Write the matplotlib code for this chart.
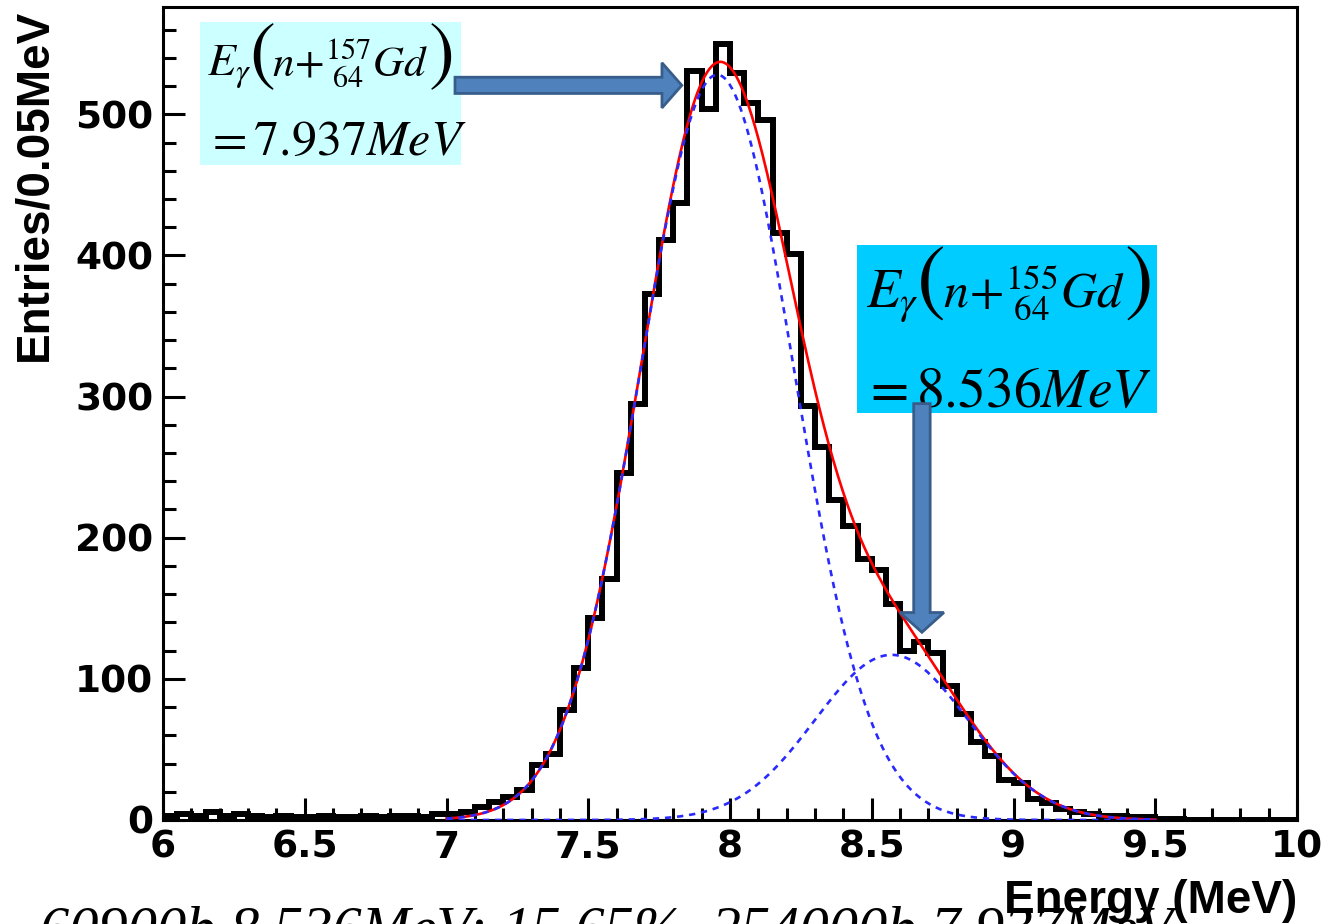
import numpy as np
import matplotlib
matplotlib.use("Agg")
import matplotlib.pyplot as plt
from matplotlib.patches import Rectangle, FancyArrow

# ---------------- data ----------------
bin_edges = np.round(np.arange(6.0, 10.0001, 0.05), 2)
counts = [
    3, 4, 3, 6, 3, 4, 3, 2, 3, 2,          # 6.00 - 6.45
    2, 3, 2, 2, 3, 2, 3, 3, 2, 4,          # 6.50 - 6.95
    4, 6, 9, 13, 16, 21, 39, 47, 78, 108,  # 7.00 - 7.45
    143, 171, 246, 295, 373, 411, 437, 531, 504, 550,  # 7.50 - 7.95
    529, 508, 496, 416, 401, 293, 264, 227, 208, 185,  # 8.00 - 8.45
    177, 153, 120, 126, 118, 95, 75, 55, 45, 28,       # 8.50 - 8.95
    26, 15, 12, 8, 6, 4, 3, 3, 2, 2,       # 9.00 - 9.45
    1, 1, 0, 0, 0, 0, 0, 0, 0, 0,          # 9.50 - 9.95
]
# fitted gaussian components
gd157_amp, gd157_mean, gd157_sigma = 528.0, 7.955, 0.27
gd155_amp, gd155_mean, gd155_sigma = 117.0, 8.57, 0.27
fit_range = (7.0, 9.5)

xticks = [6, 6.5, 7, 7.5, 8, 8.5, 9, 9.5, 10]
xticklabels = ["6", "6.5", "7", "7.5", "8", "8.5", "9", "9.5", "10"]
yticks = [0, 100, 200, 300, 400, 500]

box1_sym = r"$E_{\gamma}$"
box1_core = r"$n\!+\!{}^{157}_{\ 64}Gd$"
box1_value = r"$=7.937MeV$"
box2_sym = r"$E_{\gamma}$"
box2_core = r"$n\!+\!{}^{155}_{\ 64}Gd$"
box2_value = r"$=8.536MeV$"
bottom_note = "60900b 8.536MeV: 15.65%, 254000b 7.937MeV"

# ---------------- figure ----------------
plt.rcParams["mathtext.fontset"] = "stix"
plt.rcParams["font.family"] = ["Liberation Sans", "DejaVu Sans"]

W, H = 1326, 924
fig = plt.figure(figsize=(W / 100, H / 100), dpi=100)
ax = fig.add_axes([163 / W, 1 - 820 / H, (1297 - 163) / W, (820 - 7) / H])

ax.stairs(counts, bin_edges, color="black", linewidth=4.3, baseline=0, zorder=2)


def gauss(x, a, m, s):
    return a * np.exp(-0.5 * ((x - m) / s) ** 2)


xf = np.linspace(fit_range[0], fit_range[1], 600)
g1 = gauss(xf, gd157_amp, gd157_mean, gd157_sigma)
g2 = gauss(xf, gd155_amp, gd155_mean, gd155_sigma)
ax.plot(xf, g1 + g2, color="red", linewidth=1.9, zorder=3)
ax.plot(xf, g1, color="#2a2aff", linewidth=1.9, linestyle=(0, (2.4, 2.2)), zorder=4)
ax.plot(xf, g2, color="#2a2aff", linewidth=1.9, linestyle=(0, (2.4, 2.2)), zorder=4)

ax.set_xlim(6, 10)
ax.set_ylim(0, 576)
ax.set_xticks(xticks)
ax.set_xticklabels(xticklabels)
ax.set_xticks(np.arange(6, 10.001, 0.1), minor=True)
ax.set_yticks(yticks)
ax.set_yticks(np.arange(0, 561, 20), minor=True)

ax.tick_params(which="both", direction="in", top=False, right=False, width=2.2)
ax.tick_params(which="major", length=16, labelsize=27, pad=7)
ax.tick_params(which="minor", length=9)
for lab in ax.get_xticklabels() + ax.get_yticklabels():
    lab.set_fontweight("bold")
    lab.set_family("DejaVu Sans")
for sp in ax.spines.values():
    sp.set_linewidth(2.2)

ax.set_xlabel("Energy (MeV)", fontsize=33, fontweight="bold", ha="right")
ax.xaxis.set_label_coords(1.0, -0.072)
ax.set_ylabel("Entries/0.05MeV", fontsize=33, fontweight="bold", loc="top")
ax.yaxis.set_label_coords(-0.094, 0.998)

# annotation boxes
ax.add_patch(Rectangle((200 / W, 1 - 165 / H), 261 / W, 143 / H,
                       transform=fig.transFigure, facecolor="#ccffff",
                       edgecolor="none", clip_on=False, zorder=5))
ax.add_patch(Rectangle((857 / W, 1 - 413 / H), 300 / W, 168 / H,
                       transform=fig.transFigure, facecolor="#00ccff",
                       edgecolor="none", clip_on=False, zorder=5))

fig.canvas.draw()
renderer = fig.canvas.get_renderer()


def formula(x_px, base_px, par_center_px, sym, core, fs, core_fs, par_fs):
    t1 = ax.text(x_px / W, 1 - base_px / H, sym, transform=fig.transFigure,
                 fontsize=fs, va="baseline", ha="left", zorder=6)
    x = t1.get_window_extent(renderer).x1 - 2
    p1 = ax.text(x / W, 1 - par_center_px / H, "(", transform=fig.transFigure,
                 fontsize=par_fs, va="center", ha="left", zorder=6,
                 family=["STIXGeneral"])
    x = p1.get_window_extent(renderer).x1 - 3
    t2 = ax.text(x / W, 1 - base_px / H, core, transform=fig.transFigure,
                 fontsize=core_fs, va="baseline", ha="left", zorder=6)
    x = t2.get_window_extent(renderer).x1
    ax.text(x / W, 1 - par_center_px / H, ")", transform=fig.transFigure,
            fontsize=par_fs, va="center", ha="left", zorder=6,
            family=["STIXGeneral"])


formula(207, 76, 58, box1_sym, box1_core, 33, 31, 56)
ax.text(205 / W, 1 - 155 / H, box1_value, transform=fig.transFigure,
        fontsize=36, va="baseline", ha="left", zorder=6)
formula(866, 308, 285, box2_sym, box2_core, 40, 36, 62)
ax.text(862 / W, 1 - 407 / H, box2_value, transform=fig.transFigure,
        fontsize=40, va="baseline", ha="left", zorder=6)

# block arrows
ax.add_patch(FancyArrow(7.03, 520.5, 0.80, 0, width=11.5, head_width=32,
                        head_length=0.07, length_includes_head=True,
                        facecolor="#4f81bd", edgecolor="#385d8a", linewidth=2,
                        clip_on=False, zorder=7))
ax.add_patch(FancyArrow(8.677, 295, 0, -162, width=0.058, head_width=0.155,
                        head_length=14, length_includes_head=True,
                        facecolor="#4f81bd", edgecolor="#385d8a", linewidth=2,
                        clip_on=False, zorder=7))

# partially visible note at the bottom edge
fig.text(40 / W, -21 / H, bottom_note, fontsize=42, style="italic",
         family=["Liberation Serif", "DejaVu Serif"], va="baseline", ha="left")

fig.savefig("out.png", dpi=100)
